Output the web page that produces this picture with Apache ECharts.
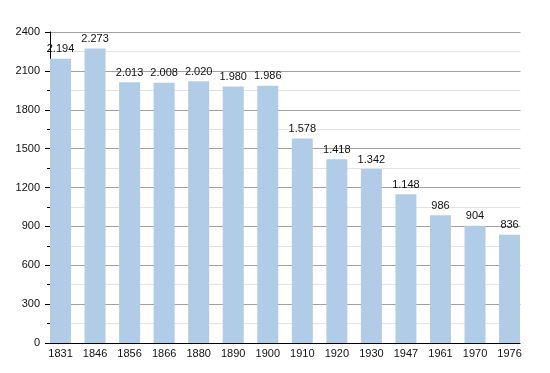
<!DOCTYPE html>
<html><head><meta charset="utf-8">
<script src="https://cdn.jsdelivr.net/npm/echarts@6/dist/echarts.min.js"></script>
<style>html,body{margin:0;padding:0;background:#fff}#c{width:550px;height:373px}</style>
</head><body><div id="c"></div>
<script>
const categories = ['1831','1846','1856','1866','1880','1890','1900','1910','1920','1930','1947','1961','1970','1976'];
const population = [2194, 2273, 2013, 2008, 2020, 1980, 1986, 1578, 1418, 1342, 1148, 986, 904, 836];
const yTicks = [0, 300, 600, 900, 1200, 1500, 1800, 2100, 2400];

function fmt(v){ return String(v).replace(/\B(?=(\d{3})+(?!\d))/g, '.'); }

const chart = echarts.init(document.getElementById('c'), null, {renderer:'canvas'});
const font = 'Liberation Sans, Arial, sans-serif';
chart.setOption({
  animation: false,
  grid: {left: 50, top: 32, width: 483.6, height: 311},
  xAxis: {
    type: 'category', data: categories, boundaryGap: true,
    axisLine: {show: true, lineStyle: {color: '#000', width: 1}},
    axisTick: {show: false},
    axisLabel: {color: '#111', fontSize: 11, fontFamily: font, margin: 5, padding: [0, 13.5, 0, 0]},
    splitLine: {show: false}
  },
  yAxis: {
    type: 'value', min: yTicks[0], max: yTicks[yTicks.length-1], interval: 300,
    axisLine: {show: true, lineStyle: {color: '#000', width: 1}},
    axisTick: {show: true, length: 5, lineStyle: {color: '#000'}},
    minorTick: {show: true, splitNumber: 2, length: 3, lineStyle: {color: '#000'}},
    axisLabel: {color: '#111', fontSize: 11, fontFamily: font, margin: 10, formatter: v => String(v)},
    splitLine: {show: true, lineStyle: {color: '#a0a0a0', width: 1}},
    minorSplitLine: {show: true, lineStyle: {color: '#e2e2e2', width: 1}}
  },
  series: [
    {
      type: 'bar', data: population, barWidth: 21, barGap: '0%',
      itemStyle: {color: '#b1cce6'},
      label: {show: true, position: 'top', distance: 4, color: '#111', fontSize: 11, fontFamily: font,
        formatter: p => fmt(p.value)}
    },
    {type: 'bar', data: [], barWidth: 13.54, barGap: '0%'}
  ],
  graphic: [{type: 'rect', z: 100, shape: {x: 520.5, y: 0, width: 40, height: 344}, style: {fill: '#fff'}}]
});
</script></body></html>
